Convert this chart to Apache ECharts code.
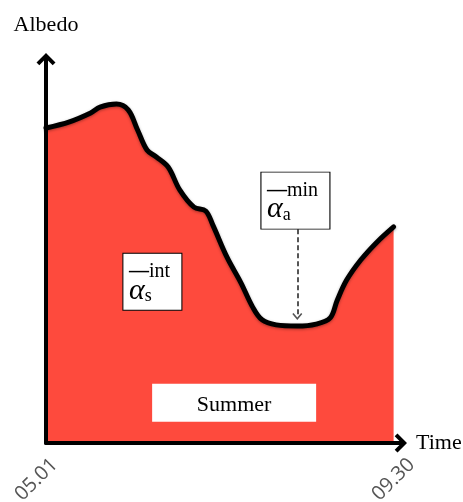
<!DOCTYPE html>
<html><head><meta charset="utf-8">
<script src="https://cdn.jsdelivr.net/npm/echarts@6/dist/echarts.min.js"></script>
<style>html,body{margin:0;padding:0;background:#fff}#c{width:463px;height:502px}</style>
</head><body><div id="c"></div>
<script>
// Day index since 05.01 and the schematic albedo curve
const days   = [0, 10, 19, 23, 30, 35, 39, 43, 47, 52, 57, 63, 68, 71, 77, 83, 88, 92, 98, 107, 115, 121, 124, 128, 134, 141, 148];
const albedo = [0.816, 0.832, 0.855, 0.870, 0.878, 0.863, 0.811, 0.759, 0.741, 0.715, 0.655, 0.611, 0.601, 0.565, 0.482, 0.415, 0.352, 0.319, 0.306, 0.303, 0.308, 0.324, 0.370, 0.422, 0.474, 0.521, 0.560];
const tickDays   = [0, 152];
const tickLabels = ['05.01', '09.30'];
const axisNames  = ['Time', 'Albedo'];
const boxTexts   = ['{d|—}{sup|int}\n{al|α}{sub|s}', '{d|—}{sup|min}\n{al|α}{sub|a}', 'Summer'];

const seriesData = days.map((d, i) => [d, albedo[i]]);
let minIdx = 0;
albedo.forEach((v, i) => { if (v < albedo[minIdx]) minIdx = i; });
const minDay = days[minIdx];

const chevron = 'path://M9.5,0L19,9.5L16.2,12.3L9.5,5.6L2.8,12.3L0,9.5Z';
const thinChevron = 'path://M5,0L10,6L8.8,7L5,2.4L1.2,7L0,6Z';
const serif = 'Liberation Serif';
const rich = {
  d:   { fontFamily: serif, fontSize: 20, fontWeight: 'bold', lineHeight: 20, color: '#000', verticalAlign: 'bottom', align: 'left' },
  sup: { fontFamily: serif, fontSize: 20, lineHeight: 20, color: '#000', verticalAlign: 'bottom', align: 'left' },
  al:  { fontFamily: serif, fontSize: 30, fontStyle: 'italic', lineHeight: 24, color: '#000', verticalAlign: 'bottom', align: 'left' },
  sub: { fontFamily: serif, fontSize: 18, lineHeight: 16, color: '#000', verticalAlign: 'bottom', align: 'left' }
};

const chart = echarts.init(document.getElementById('c'), null, { renderer: 'canvas' });
chart.setOption({
  animation: false,
  backgroundColor: '#fff',
  grid: { left: 46, right: 60, top: 57, bottom: 59, containLabel: false, outerBoundsMode: 'none' },
  xAxis: {
    type: 'value', min: tickDays[0], max: tickDays[1], interval: tickDays[1] - tickDays[0],
    z: 10,
    name: axisNames[0], nameLocation: 'end', nameGap: 13,
    nameTextStyle: { fontFamily: serif, fontSize: 22, color: '#000', align: 'left', verticalAlign: 'middle', padding: [8, 0, 0, 0] },
    axisLine: { show: true, lineStyle: { color: '#000', width: 4 }, symbol: ['none', chevron], symbolSize: [19, 12.3], symbolOffset: [0, -2.15] },
    axisTick: { show: false },
    splitLine: { show: false },
    axisLabel: {
      show: true, rotate: 45, margin: 27, padding: [0, -12, 0, 0],
      fontFamily: 'Open Sans', fontSize: 20, color: '#555',
      formatter: v => { const k = tickDays.indexOf(v); return k >= 0 ? tickLabels[k] : ''; }
    }
  },
  yAxis: {
    type: 'value', min: 0, max: 1,
    z: 10,
    name: axisNames[1], nameLocation: 'end', nameGap: 21,
    nameTextStyle: { fontFamily: serif, fontSize: 22, color: '#000', align: 'center', verticalAlign: 'bottom' },
    axisLine: { show: true, lineStyle: { color: '#000', width: 4 }, symbol: ['none', chevron], symbolSize: [19, 12.3], symbolOffset: [0, -2.15] },
    axisTick: { show: false },
    axisLabel: { show: false },
    splitLine: { show: false }
  },
  series: [{
    type: 'line',
    data: seriesData,
    smooth: 0.35,
    showSymbol: false,
    silent: true,
    lineStyle: { color: '#000', width: 5, cap: 'round', shadowColor: 'rgba(0,0,0,0.35)', shadowBlur: 3, shadowOffsetY: 1 },
    areaStyle: { color: '#fe4a3d', opacity: 1 },
    markLine: {
      silent: true,
      symbol: ['none', thinChevron],
      symbolSize: [10, 7],
      label: { show: false },
      lineStyle: { color: '#555', width: 2, type: [5, 3] },
      data: [[{ coord: [minDay, 0.554] }, { coord: [minDay, 0.328] }]]
    },
    markPoint: {
      silent: true,
      data: [
        { coord: [45.3, 0.418], symbol: 'rect', symbolSize: [59, 57],
          itemStyle: { color: '#fff', borderColor: '#000', borderWidth: 1 },
          label: { show: true, position: 'inside', width: 47, padding: [4, 0, 0, 0], formatter: boxTexts[0], rich: rich } },
        { coord: [106.2, 0.628], symbol: 'rect', symbolSize: [69, 57],
          itemStyle: { color: '#fff', borderColor: '#000', borderWidth: 1 },
          label: { show: true, position: 'inside', width: 57, padding: [4, 0, 0, 0], formatter: boxTexts[1], rich: rich } },
        { coord: [80.1, 0.104], symbol: 'rect', symbolSize: [164, 38],
          itemStyle: { color: '#fff', borderWidth: 0 },
          label: { show: true, position: 'inside', formatter: boxTexts[2], fontFamily: serif, fontSize: 22, color: '#000', offset: [0, 2] } }
      ]
    }
  }]
});
</script>
</body></html>
